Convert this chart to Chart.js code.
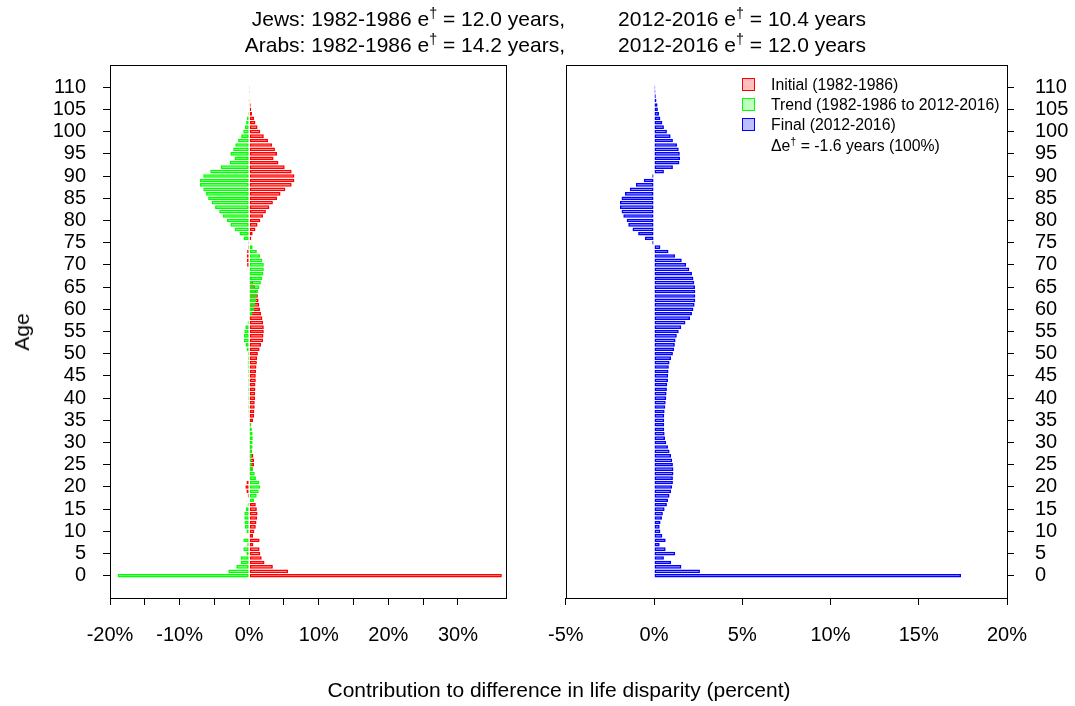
<!DOCTYPE html>
<html>
<head>
<meta charset="utf-8">
<script src="https://cdn.jsdelivr.net/npm/chart.js@4.4.0/dist/chart.umd.min.js"></script>
<style>
  body { margin: 0; background: #fff; font-family: "Liberation Sans", Arial, sans-serif; color: #000; }
  #page { position: relative; width: 1075px; height: 706px; overflow: hidden; }
  .abs { position: absolute; white-space: nowrap; }
  .ttl { font-size: 21px; line-height: 24px; }
  sup { font-size: 0.68em; line-height: 0; vertical-align: 0.55em; }
  .lg { font-size: 15.8px; line-height: 20px; left: 771px; }
  .sq { position: absolute; left: 742px; width: 11px; height: 11px; border: 1.5px solid; }
</style>
</head>
<body>
<div id="page">
  <div class="abs" style="left:0;top:0;width:530px;height:706px"><canvas id="left" width="530" height="706"></canvas></div>
  <div class="abs" style="left:530px;top:0;width:545px;height:706px"><canvas id="right" width="545" height="706"></canvas></div>

  <div class="abs ttl" style="right:510px;top:7px;text-align:right">Jews: 1982-1986 e<sup>†</sup> = 12.0 years,</div>
  <div class="abs ttl" style="right:209px;top:7px;text-align:right">2012-2016 e<sup>†</sup> = 10.4 years</div>
  <div class="abs ttl" style="right:510px;top:33px;text-align:right">Arabs: 1982-1986 e<sup>†</sup> = 14.2 years,</div>
  <div class="abs ttl" style="right:209px;top:33px;text-align:right">2012-2016 e<sup>†</sup> = 12.0 years</div>

  <div class="abs ttl" style="left:22px;top:332px;transform:translate(-50%,-50%) rotate(-90deg)">Age</div>
  <div class="abs ttl" style="left:559px;top:690px;transform:translate(-50%,-50%)">Contribution to difference in life disparity (percent)</div>

  <div class="sq" style="top:78px;border-color:#ff0000;background:rgba(255,0,0,0.25)"></div>
  <div class="sq" style="top:98px;border-color:#00ff00;background:rgba(0,255,0,0.25)"></div>
  <div class="sq" style="top:118px;border-color:#0000ff;background:rgba(0,0,255,0.25)"></div>
  <div class="abs lg" style="top:75px">Initial (1982-1986)</div>
  <div class="abs lg" style="top:95px">Trend (1982-1986 to 2012-2016)</div>
  <div class="abs lg" style="top:115px">Final (2012-2016)</div>
  <div class="abs lg" style="top:136px">Δe<sup>†</sup> = -1.6 years (100%)</div>
</div>
<script>
// ages 0..110
const ages = Array.from({ length: 111 }, (_, i) => i);
// Initial (1982-1986), percent
const initial = [
  36.3, 5.6, 3.4, 2.2, 1.8, 1.6, 1.5, 0.6, 1.5, 0.55,
  0.75, 0.95, 1.05, 1.15, 1.2, 1.1, 0.95, 0.1, -0.2, -0.4,
  -0.55, -0.4, 0.1, 0.3, 0.55, 0.7, 0.7, 0.6, 0.45, 0.3,
  0.2, 0.1, 0.1, 0.2, 0.3, 0.55, 0.7, 0.75, 0.8, 0.8,
  0.85, 0.85, 0.9, 0.9, 0.95, 0.95, 1.0, 1.05, 1.1, 1.15,
  1.25, 1.5, 1.7, 2.0, 2.05, 2.1, 2.1, 2.0, 1.9, 1.7,
  1.55, 1.45, 1.35, 1.25, 1.05, 0.85, 0.6, 0.35, 0.1, -0.1,
  -0.3, -0.35, -0.35, -0.3, -0.15, 0.05, 0.3, 0.5, 0.9, 1.2,
  1.6, 2.0, 2.4, 2.9, 3.4, 4.0, 4.5, 5.2, 6.1, 6.5,
  6.5, 6.1, 5.1, 4.2, 3.5, 4.0, 3.7, 3.3, 2.7, 2.1,
  1.6, 1.2, 0.9, 0.7, 0.4, 0.3, 0.22, 0.15, 0.1, 0.07, 0.05
];
// Trend (1982-1986 to 2012-2016), percent
const trend = [
  -18.9, -3.0, -1.85, -1.23, -1.24, -0.4, -0.84, -0.28, -0.84, -0.08,
  -0.39, -0.63, -0.68, -0.7, -0.7, -0.5, -0.22, 0.69, 1.08, 1.37,
  1.58, 1.47, 0.97, 0.8, 0.55, 0.37, 0.33, 0.37, 0.43, 0.49,
  0.49, 0.52, 0.5, 0.38, 0.28, 0.03, -0.12, -0.15, -0.16, -0.14,
  -0.16, -0.14, -0.17, -0.15, -0.16, -0.15, -0.18, -0.21, -0.22, -0.18,
  -0.18, -0.36, -0.52, -0.78, -0.76, -0.7, -0.56, -0.22, 0.14, 0.45,
  0.68, 0.85, 1.0, 1.1, 1.3, 1.47, 1.68, 1.88, 2.05, 2.1,
  2.1, 1.9, 1.55, 1.1, 0.5, -0.15, -0.82, -1.4, -2.1, -2.7,
  -3.2, -3.8, -4.3, -4.9, -5.4, -5.9, -6.2, -6.6, -7.1, -7.1,
  -6.6, -5.6, -4.1, -2.8, -2.1, -2.7, -2.3, -2.0, -1.6, -1.15,
  -0.85, -0.62, -0.44, -0.32, -0.15, -0.08, -0.02, -0.01, 0, 0.01, 0.02
];
// Final (2012-2016), percent
const final = [
  17.4, 2.6, 1.55, 0.97, 0.56, 1.2, 0.66, 0.32, 0.66, 0.47,
  0.36, 0.32, 0.37, 0.45, 0.5, 0.6, 0.73, 0.79, 0.88, 0.97,
  1.03, 1.07, 1.07, 1.1, 1.1, 1.07, 1.03, 0.97, 0.88, 0.79,
  0.69, 0.62, 0.6, 0.58, 0.58, 0.58, 0.58, 0.6, 0.64, 0.66,
  0.69, 0.71, 0.73, 0.75, 0.79, 0.8, 0.82, 0.84, 0.88, 0.97,
  1.07, 1.14, 1.18, 1.22, 1.29, 1.4, 1.54, 1.78, 2.04, 2.15,
  2.23, 2.3, 2.34, 2.34, 2.34, 2.32, 2.28, 2.23, 2.15, 2.0,
  1.82, 1.57, 1.2, 0.82, 0.36, -0.1, -0.52, -0.9, -1.22, -1.46,
  -1.55, -1.74, -1.84, -1.93, -1.93, -1.84, -1.65, -1.37, -1.03, -0.58,
  -0.1, 0.56, 1.07, 1.44, 1.48, 1.46, 1.4, 1.3, 1.07, 0.94,
  0.73, 0.56, 0.47, 0.36, 0.28, 0.22, 0.2, 0.14, 0.1, 0.08, 0.07
];
const ageTicks = [0, 110];   // first and last labelled age
const leftRange = [-20, 36.9];
const rightRange = [-5, 20];

const FONT = { family: "'Liberation Sans', Arial, sans-serif", size: 20 };

const pts = (vals) => vals.map((v, i) => ({ x: v, y: ages[i] }));

const onStep = (v, s) => Math.abs(v / s - Math.round(v / s)) < 1e-6;

// draws the full box round the plot area
const boxPlugin = {
  id: 'box',
  afterDraw(chart) {
    const a = chart.chartArea, ctx = chart.ctx;
    ctx.save();
    ctx.strokeStyle = '#000';
    ctx.lineWidth = 1;
    ctx.strokeRect(Math.round(a.left) + 0.5, Math.round(a.top) + 0.5,
      Math.round(a.right - a.left), Math.round(a.bottom - a.top));
    ctx.restore();
  }
};

const barSet = (label, vals, col, fill, order) => ({
  label: label,
  data: pts(vals),
  backgroundColor: fill,
  borderColor: col,
  borderWidth: 1.5,
  borderSkipped: false,
  inflateAmount: 0,
  grouped: false,
  barPercentage: 0.82,
  categoryPercentage: 1,
  order: order,
});

const yScale = (pos, width, pad) => ({
  type: 'linear',
  position: pos,
  min: -5,
  max: 115,
  offset: false,
  afterBuildTicks: (s) => { s.ticks = s.ticks.filter(t => t.value >= ageTicks[0] && t.value <= ageTicks[1]); },
  afterFit: (s) => { s.width = width; },
  ticks: { stepSize: 5, autoSkip: false, color: '#000', font: FONT, padding: pad },
  grid: { drawOnChartArea: false, offset: false, tickLength: 7, color: '#000' },
  border: { display: false },
});

const xScale = (range, labelEvery) => ({
  type: 'linear',
  min: range[0],
  max: range[1],
  afterBuildTicks: (s) => { s.ticks = s.ticks.filter(t => onStep(t.value, 5)); },
  afterFit: (s) => { s.height = 108; },
  ticks: {
    stepSize: 5, autoSkip: false, maxRotation: 0, color: '#000', font: FONT, padding: 18,
    callback: (v) => onStep(v, labelEvery) ? Math.round(v) + '%' : '',
  },
  grid: { drawOnChartArea: false, tickLength: 7, color: '#000' },
  border: { display: false },
});

const common = {
  responsive: false,
  maintainAspectRatio: false,
  animation: false,
  indexAxis: 'y',
  events: [],
  plugins: { legend: { display: false }, tooltip: { enabled: false } },
};

new Chart(document.getElementById('left'), {
  type: 'bar',
  data: {
    datasets: [
      barSet('Initial (1982-1986)', initial, '#ff0000', 'rgba(255,0,0,0.3)', 2),
      barSet('Trend (1982-1986 to 2012-2016)', trend, '#00ff00', 'rgba(0,255,0,0.3)', 1),
    ],
  },
  options: Object.assign({}, common, {
    layout: { padding: { left: 0, right: 24, top: 65, bottom: 0 } },
    scales: { x: xScale(leftRange, 10), y: yScale('left', 110, 17) },
  }),
  plugins: [boxPlugin],
});

new Chart(document.getElementById('right'), {
  type: 'bar',
  data: {
    datasets: [
      barSet('Final (2012-2016)', final, '#0000ff', 'rgba(0,0,255,0.3)', 1),
    ],
  },
  options: Object.assign({}, common, {
    layout: { padding: { left: 32, right: 0, top: 65, bottom: 0 } },
    scales: { x: xScale(rightRange, 5), y: yScale('right', 68, 21) },
  }),
  plugins: [boxPlugin],
});
</script>
</body>
</html>
